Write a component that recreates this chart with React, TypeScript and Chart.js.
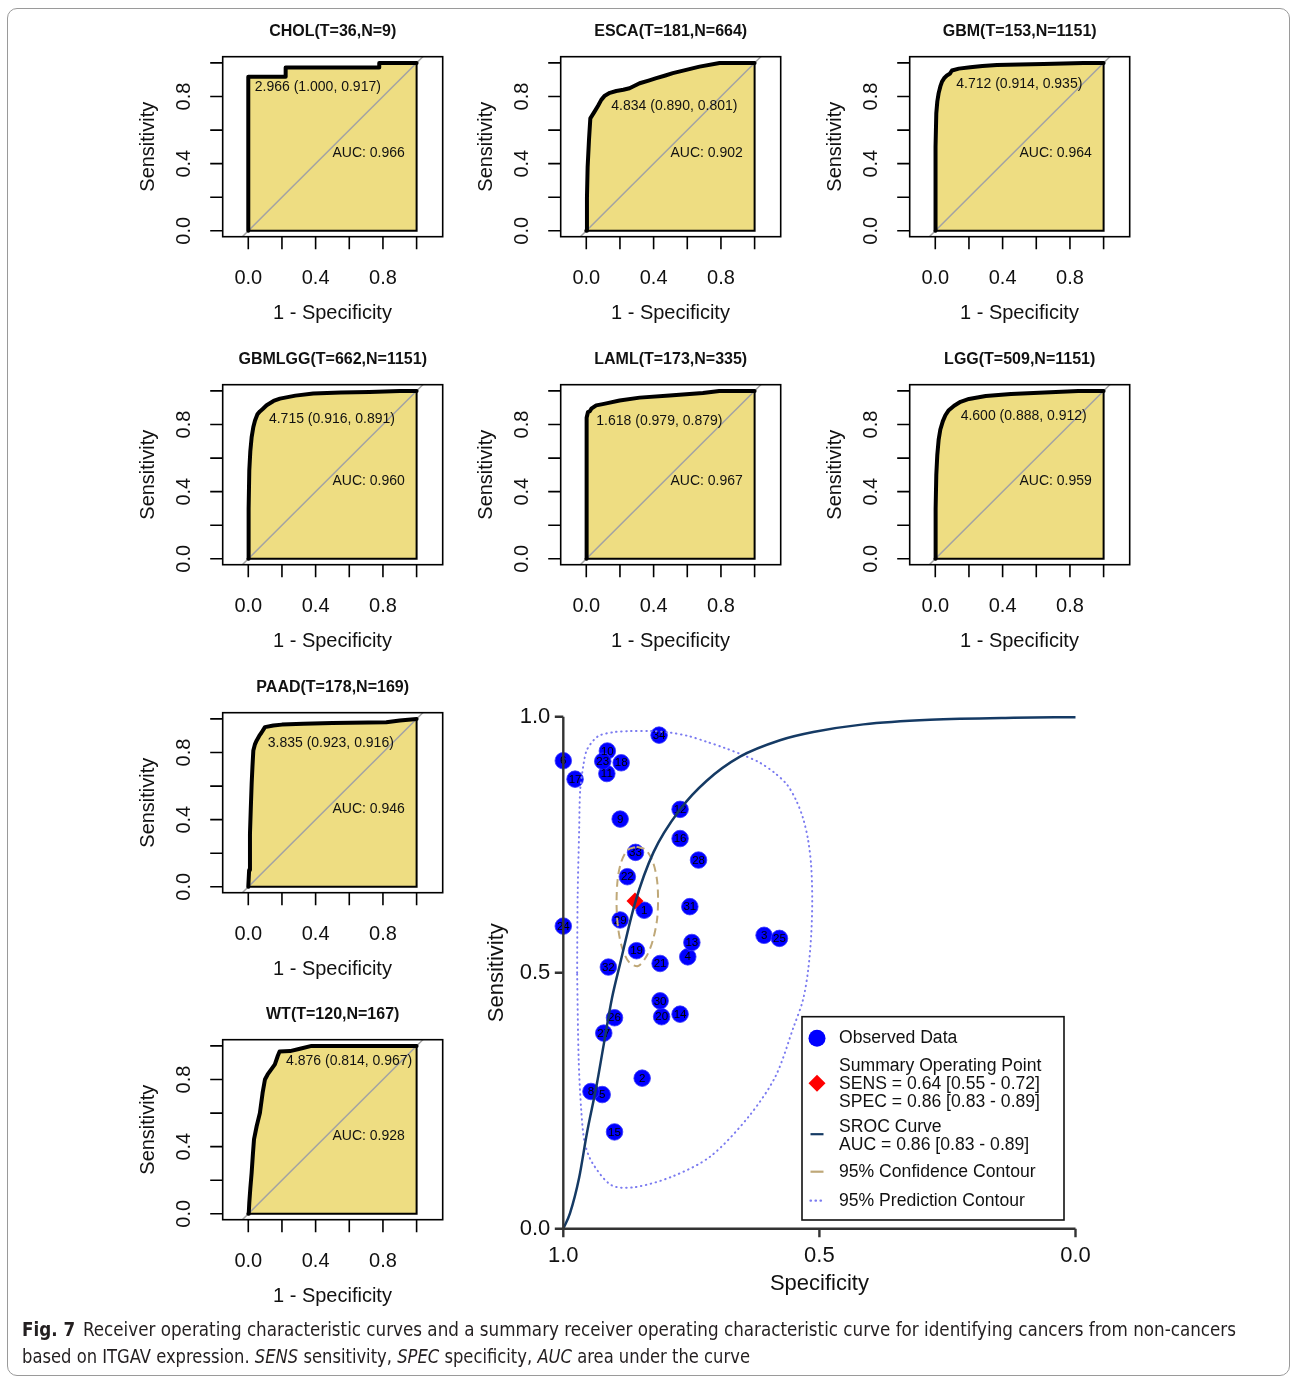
import React, { useEffect, useRef } from 'react';
import { Chart, registerables } from 'chart.js';
Chart.register(...registerables);

const FONT = '"Liberation Sans", Arial, Helvetica, sans-serif';

// ---------------- small ROC panels: data ----------------
const PANEL_TITLES = [
  'CHOL(T=36,N=9)', 'ESCA(T=181,N=664)', 'GBM(T=153,N=1151)',
  'GBMLGG(T=662,N=1151)', 'LAML(T=173,N=335)', 'LGG(T=509,N=1151)',
  'PAAD(T=178,N=169)', 'WT(T=120,N=167)',
];
const PANEL_CUTOFF = [2.966, 4.834, 4.712, 4.715, 1.618, 4.6, 3.835, 4.876];
const PANEL_SPEC = [1.0, 0.89, 0.914, 0.916, 0.979, 0.888, 0.923, 0.814];
const PANEL_SENS = [0.917, 0.801, 0.935, 0.891, 0.879, 0.912, 0.916, 0.967];
const PANEL_AUC = [0.966, 0.902, 0.964, 0.96, 0.967, 0.959, 0.946, 0.928];

const CHOL_FPR = [0, 0, 0.222, 0.222, 0.778, 0.778, 1];
const CHOL_TPR = [0, 0.917, 0.917, 0.972, 0.972, 1, 1];

const ESCA_FPR = [0, 0.004, 0.008, 0.016, 0.024, 0.049, 0.07, 0.089, 0.11, 0.14, 0.178, 0.22, 0.257, 0.317, 0.37, 0.416, 0.47, 0.514, 0.6, 0.673, 0.792, 1];
const ESCA_TPR = [0, 0.2, 0.38, 0.54, 0.67, 0.71, 0.745, 0.78, 0.805, 0.822, 0.833, 0.84, 0.849, 0.879, 0.895, 0.909, 0.925, 0.939, 0.96, 0.978, 1, 1];

const GBM_FPR = [0, 0, 0.003, 0.006, 0.012, 0.02, 0.03, 0.04, 0.055, 0.069, 0.086, 0.099, 0.14, 0.208, 0.28, 0.366, 0.5, 0.643, 0.88, 1];
const GBM_TPR = [0, 0.3, 0.5, 0.7, 0.77, 0.82, 0.86, 0.889, 0.912, 0.925, 0.935, 0.955, 0.966, 0.974, 0.982, 0.988, 0.99, 0.994, 1, 1];

const GBMLGG_FPR = [0, 0.002, 0.006, 0.012, 0.02, 0.03, 0.04, 0.055, 0.069, 0.084, 0.109, 0.15, 0.188, 0.28, 0.386, 0.55, 0.72, 0.9, 1];
const GBMLGG_TPR = [0, 0.3, 0.527, 0.64, 0.725, 0.785, 0.824, 0.862, 0.878, 0.891, 0.915, 0.94, 0.954, 0.972, 0.985, 0.99, 0.993, 1, 1];

const LAML_FPR = [0, 0, 0.004, 0.01, 0.021, 0.03, 0.059, 0.09, 0.119, 0.198, 0.317, 0.495, 0.693, 0.79, 1];
const LAML_TPR = [0, 0.765, 0.84, 0.874, 0.879, 0.894, 0.914, 0.92, 0.926, 0.943, 0.96, 0.973, 0.987, 1, 1];

const LGG_FPR = [0, 0.002, 0.006, 0.012, 0.02, 0.03, 0.045, 0.06, 0.08, 0.112, 0.15, 0.2, 0.3, 0.45, 0.65, 0.85, 1];
const LGG_TPR = [0, 0.3, 0.5, 0.62, 0.71, 0.77, 0.82, 0.855, 0.885, 0.912, 0.935, 0.952, 0.97, 0.982, 0.99, 1, 1];

const PAAD_FPR = [0, 0.005, 0.01, 0.015, 0.02, 0.025, 0.03, 0.04, 0.05, 0.069, 0.077, 0.099, 0.149, 0.2, 0.327, 0.5, 0.82, 0.9, 1];
const PAAD_TPR = [0, 0.1, 0.317, 0.47, 0.614, 0.72, 0.812, 0.85, 0.872, 0.905, 0.916, 0.951, 0.961, 0.966, 0.971, 0.975, 0.98, 0.99, 1];

const WT_FPR = [0, 0.003, 0.006, 0.012, 0.02, 0.027, 0.034, 0.05, 0.069, 0.085, 0.099, 0.115, 0.129, 0.158, 0.175, 0.186, 0.248, 0.307, 0.376, 1];
const WT_TPR = [0, 0.007, 0.067, 0.15, 0.245, 0.35, 0.443, 0.523, 0.6, 0.72, 0.8, 0.83, 0.85, 0.89, 0.94, 0.967, 0.969, 0.983, 1, 1];

const PANEL_FPR = [CHOL_FPR, ESCA_FPR, GBM_FPR, GBMLGG_FPR, LAML_FPR, LGG_FPR, PAAD_FPR, WT_FPR];
const PANEL_TPR = [CHOL_TPR, ESCA_TPR, GBM_TPR, GBMLGG_TPR, LAML_TPR, LGG_TPR, PAAD_TPR, WT_TPR];

const ROC_TICKS = [0, 0.2, 0.4, 0.6, 0.8, 1.0];
const ROC_TICK_LABELS = [0, 0.4, 0.8];

// ---------------- SROC panel: data ----------------
const STUDY_IDS = [1, 2, 3, 4, 5, 6, 8, 9, 10, 11, 12, 13, 14, 15, 16, 17, 18, 19, 20, 21, 22, 23, 24, 25, 26, 27, 28, 29, 30, 31, 32, 33, 34];
const STUDY_SPEC = [0.842, 0.846, 0.608, 0.757, 0.924, 1.0, 0.946, 0.889, 0.914, 0.915, 0.772, 0.749, 0.772, 0.9, 0.772, 0.977, 0.887, 0.857, 0.808, 0.811, 0.875, 0.923, 1.0, 0.578, 0.9, 0.921, 0.736, 0.889, 0.811, 0.753, 0.912, 0.859, 0.813];
const STUDY_SENS = [0.622, 0.294, 0.573, 0.531, 0.262, 0.914, 0.268, 0.8, 0.933, 0.889, 0.819, 0.559, 0.419, 0.189, 0.762, 0.878, 0.91, 0.543, 0.414, 0.518, 0.6875, 0.913, 0.591, 0.567, 0.412, 0.382, 0.72, 0.603, 0.445, 0.629, 0.511, 0.735, 0.964];

const SUMMARY_SENS = [0.64, 0.55, 0.72];
const SUMMARY_SPEC = [0.86, 0.83, 0.89];
const SROC_AUC = [0.86, 0.83, 0.89];

const SROC_SPEC = [1.0, 0.987, 0.969, 0.954, 0.935, 0.921, 0.905, 0.889, 0.86, 0.824, 0.772, 0.72, 0.655, 0.577, 0.512, 0.414, 0.284, 0.121, 0.0];
const SROC_SENS = [0.0, 0.03, 0.1, 0.186, 0.28, 0.36, 0.45, 0.518, 0.636, 0.735, 0.819, 0.875, 0.922, 0.954, 0.97, 0.985, 0.994, 0.998, 0.999];

const CONF_SPEC = [0.857, 0.839, 0.825, 0.817, 0.815, 0.817, 0.825, 0.837, 0.854, 0.872, 0.885, 0.893, 0.896, 0.894, 0.887, 0.874, 0.857];
const CONF_SENS = [0.746, 0.74, 0.716, 0.681, 0.642, 0.603, 0.564, 0.533, 0.513, 0.521, 0.548, 0.587, 0.632, 0.681, 0.716, 0.74, 0.746];

const PRED_SPEC = [0.973, 0.972, 0.969, 0.967, 0.96, 0.954, 0.94, 0.928, 0.9, 0.87, 0.83, 0.792, 0.755, 0.72, 0.685, 0.649, 0.616, 0.587, 0.563, 0.546, 0.532, 0.522, 0.516, 0.514, 0.516, 0.522, 0.532, 0.55, 0.586, 0.638, 0.713, 0.787, 0.861, 0.906, 0.943, 0.958, 0.965, 0.97, 0.973];
const PRED_SENS = [0.5, 0.65, 0.78, 0.857, 0.91, 0.935, 0.955, 0.964, 0.97, 0.972, 0.972, 0.969, 0.962, 0.951, 0.939, 0.925, 0.91, 0.89, 0.867, 0.838, 0.802, 0.759, 0.708, 0.642, 0.574, 0.505, 0.447, 0.395, 0.297, 0.219, 0.141, 0.102, 0.081, 0.085, 0.128, 0.167, 0.232, 0.33, 0.5];

const SROC_TICKS = [1.0, 0.5, 0.0];

// ---------------- layout ----------------
const COL_X = [130, 468.4, 816.5];
const ROW_Y = [10, 337.5, 665.5, 993.3];
const PANEL_POS = [[0, 0], [1, 0], [2, 0], [0, 1], [1, 1], [2, 1], [0, 2], [0, 3]];

const YELLOW = '#EEDD82';

function RocPanel({ idx, left, top }: { idx: number; left: number; top: number }) {
  const ref = useRef<HTMLCanvasElement>(null);
  useEffect(() => {
    const fpr = PANEL_FPR[idx];
    const tpr = PANEL_TPR[idx];
    const decor = {
      id: 'rocDecor',
      afterDatasetsDraw(chart: any) {
        const { ctx, scales: { x, y } } = chart;
        ctx.save();
        ctx.fillStyle = '#111';
        ctx.font = `14px ${FONT}`;
        ctx.textAlign = 'left';
        ctx.textBaseline = 'middle';
        const tx = x.getPixelForValue(1 - PANEL_SPEC[idx]);
        const ty = y.getPixelForValue(PANEL_SENS[idx]);
        ctx.fillText(`${PANEL_CUTOFF[idx].toFixed(3)} (${PANEL_SPEC[idx].toFixed(3)}, ${PANEL_SENS[idx].toFixed(3)})`, tx + 6.5, ty + 10);
        ctx.fillText(`AUC: ${PANEL_AUC[idx].toFixed(3)}`, x.getPixelForValue(0.5), y.getPixelForValue(0.5) + 6.5);
        ctx.restore();
      },
      afterDraw(chart: any) {
        const { ctx, chartArea: a, scales: { x, y } } = chart;
        ctx.save();
        ctx.strokeStyle = '#000';
        ctx.lineWidth = 1.6;
        ctx.strokeRect(a.left, a.top, a.right - a.left, a.bottom - a.top);
        ctx.beginPath();
        for (const v of ROC_TICKS) {
          const px = x.getPixelForValue(v);
          ctx.moveTo(px, a.bottom);
          ctx.lineTo(px, a.bottom + 12.5);
          const py = y.getPixelForValue(v);
          ctx.moveTo(a.left, py);
          ctx.lineTo(a.left - 12.5, py);
        }
        ctx.stroke();
        ctx.fillStyle = '#111';
        ctx.font = `20px ${FONT}`;
        ctx.textAlign = 'center';
        ctx.textBaseline = 'middle';
        for (const v of ROC_TICK_LABELS) {
          ctx.fillText(v.toFixed(1), x.getPixelForValue(v), a.bottom + 41.6);
          ctx.save();
          ctx.translate(a.left - 38.2, y.getPixelForValue(v));
          ctx.rotate(-Math.PI / 2);
          ctx.fillText(v.toFixed(1), 0, 0);
          ctx.restore();
        }
        ctx.fillText('1 - Specificity', (x.getPixelForValue(0) + x.getPixelForValue(1)) / 2, a.bottom + 76.3);
        ctx.save();
        ctx.translate(a.left - 74.4, (a.top + a.bottom) / 2);
        ctx.rotate(-Math.PI / 2);
        ctx.fillText('Sensitivity', 0, 0);
        ctx.restore();
        ctx.font = `bold 16px ${FONT}`;
        ctx.fillText(PANEL_TITLES[idx], (a.left + a.right) / 2, a.top - 25);
        ctx.restore();
      },
    };
    const chart = new Chart(ref.current!, {
      type: 'line',
      data: {
        datasets: [
          {
            data: fpr.map((v, i) => ({ x: v, y: tpr[i] })),
            borderColor: '#000', borderWidth: 4, backgroundColor: YELLOW,
            fill: 'origin', pointRadius: 0, tension: 0, borderJoinStyle: 'round', borderCapStyle: 'round',
          } as any,
          {
            data: [{ x: 0, y: 0 }, { x: 1, y: 0 }, { x: 1, y: 1 }],
            borderColor: '#000', borderWidth: 2, pointRadius: 0, fill: false, tension: 0,
          },
          {
            data: [{ x: -0.2, y: -0.2 }, { x: 1.2, y: 1.2 }],
            borderColor: '#A3A3A3', borderWidth: 1.5, pointRadius: 0, fill: false, tension: 0,
          },
        ],
      },
      options: {
        animation: false, responsive: false, maintainAspectRatio: false, events: [],
        layout: { padding: { left: 92.7, top: 46.7, right: 7.3, bottom: 93.3 } },
        scales: {
          x: { type: 'linear', min: -0.152, max: 1.155, display: false },
          y: { type: 'linear', min: -0.035, max: 1.037, display: false },
        },
        plugins: {
          legend: { display: false }, tooltip: { enabled: false },
          filler: { drawTime: 'beforeDatasetsDraw' } as any,
        },
      } as any,
      plugins: [decor],
    });
    return () => chart.destroy();
  }, [idx]);
  return <canvas ref={ref} width={320} height={320} style={{ position: 'absolute', left, top, width: 320, height: 320 }} />;
}

function SrocPanel() {
  const ref = useRef<HTMLCanvasElement>(null);
  useEffect(() => {
    const NAVY = '#153A64';
    const TAN = '#BFA878';
    const PRED = '#7B7BF0';
    const decor = {
      id: 'srocDecor',
      afterDatasetDraw(chart: any, args: any) {
        if (args.index !== 4) return;
        const { ctx } = chart;
        const meta = chart.getDatasetMeta(4);
        ctx.save();
        ctx.fillStyle = '#000';
        ctx.font = `11.5px ${FONT}`;
        ctx.textAlign = 'center';
        ctx.textBaseline = 'middle';
        meta.data.forEach((el: any, i: number) => ctx.fillText(String(STUDY_IDS[i]), el.x, el.y + 0.5));
        ctx.restore();
      },
      afterDraw(chart: any) {
        const { ctx, chartArea: a, scales: { x, y } } = chart;
        ctx.save();
        // axes
        ctx.strokeStyle = '#333';
        ctx.lineWidth = 2.4;
        ctx.beginPath();
        ctx.moveTo(a.left, y.getPixelForValue(1));
        ctx.lineTo(a.left, y.getPixelForValue(0));
        ctx.moveTo(x.getPixelForValue(1), a.bottom);
        ctx.lineTo(x.getPixelForValue(0), a.bottom);
        for (const v of SROC_TICKS) {
          ctx.moveTo(a.left, y.getPixelForValue(v));
          ctx.lineTo(a.left - 8.5, y.getPixelForValue(v));
          ctx.moveTo(x.getPixelForValue(v), a.bottom);
          ctx.lineTo(x.getPixelForValue(v), a.bottom + 8.5);
        }
        ctx.stroke();
        ctx.fillStyle = '#111';
        ctx.font = `22px ${FONT}`;
        ctx.textBaseline = 'middle';
        ctx.textAlign = 'right';
        for (const v of SROC_TICKS) ctx.fillText(v.toFixed(1), a.left - 13, y.getPixelForValue(v));
        ctx.textAlign = 'center';
        for (const v of SROC_TICKS) ctx.fillText(v.toFixed(1), x.getPixelForValue(v), a.bottom + 27.5);
        ctx.fillText('Specificity', x.getPixelForValue(0.5), a.bottom + 55.5);
        ctx.save();
        ctx.translate(a.left - 66.3, y.getPixelForValue(0.5));
        ctx.rotate(-Math.PI / 2);
        ctx.fillText('Sensitivity', 0, 0);
        ctx.restore();

        // legend
        const L = a.left + 238.7;
        const T = a.top + 300;
        ctx.fillStyle = '#fff';
        ctx.fillRect(L, T, 262, 203.3);
        ctx.strokeStyle = '#111';
        ctx.lineWidth = 1.6;
        ctx.strokeRect(L, T, 262, 203.3);
        const mx = L + 15;
        const tx = L + 37;
        ctx.fillStyle = '#0000FF';
        ctx.beginPath();
        ctx.arc(mx, T + 21.5, 8.5, 0, Math.PI * 2);
        ctx.fill();
        ctx.fillStyle = '#FF0000';
        ctx.beginPath();
        ctx.moveTo(mx, T + 58);
        ctx.lineTo(mx + 8.5, T + 66.5);
        ctx.lineTo(mx, T + 75);
        ctx.lineTo(mx - 8.5, T + 66.5);
        ctx.closePath();
        ctx.fill();
        ctx.lineWidth = 2.2;
        ctx.strokeStyle = NAVY;
        ctx.beginPath(); ctx.moveTo(mx - 6.5, T + 117.5); ctx.lineTo(mx + 6.5, T + 117.5); ctx.stroke();
        ctx.strokeStyle = TAN;
        ctx.beginPath(); ctx.moveTo(mx - 6.5, T + 155); ctx.lineTo(mx + 6.5, T + 155); ctx.stroke();
        ctx.strokeStyle = PRED;
        ctx.setLineDash([0.5, 4.5]);
        ctx.lineCap = 'round';
        ctx.beginPath(); ctx.moveTo(mx - 6.5, T + 184); ctx.lineTo(mx + 6.5, T + 184); ctx.stroke();
        ctx.setLineDash([]);
        ctx.fillStyle = '#111';
        ctx.font = `17.6px ${FONT}`;
        ctx.textAlign = 'left';
        const f = (v: number) => v.toFixed(2);
        ctx.fillText('Observed Data', tx, T + 21.5);
        ctx.fillText('Summary Operating Point', tx, T + 49.5);
        ctx.fillText(`SENS = ${f(SUMMARY_SENS[0])} [${f(SUMMARY_SENS[1])} - ${f(SUMMARY_SENS[2])}]`, tx, T + 67.3);
        ctx.fillText(`SPEC = ${f(SUMMARY_SPEC[0])} [${f(SUMMARY_SPEC[1])} - ${f(SUMMARY_SPEC[2])}]`, tx, T + 85);
        ctx.fillText('SROC Curve', tx, T + 110);
        ctx.fillText(`AUC = ${f(SROC_AUC[0])} [${f(SROC_AUC[1])} - ${f(SROC_AUC[2])}]`, tx, T + 128.3);
        ctx.fillText('95% Confidence Contour', tx, T + 155);
        ctx.fillText('95% Prediction Contour', tx, T + 184);
        ctx.restore();
      },
    };
    const chart = new Chart(ref.current!, {
      type: 'line',
      data: {
        datasets: [
          {
            data: SROC_SPEC.map((v, i) => ({ x: v, y: SROC_SENS[i] })),
            borderColor: NAVY, borderWidth: 2.5, pointRadius: 0, fill: false,
            cubicInterpolationMode: 'monotone', clip: false,
          } as any,
          {
            data: CONF_SPEC.map((v, i) => ({ x: v, y: CONF_SENS[i] })),
            borderColor: TAN, borderWidth: 2, borderDash: [8, 5], pointRadius: 0, fill: false,
            tension: 0.3, clip: false,
          },
          {
            data: PRED_SPEC.map((v, i) => ({ x: v, y: PRED_SENS[i] })),
            borderColor: PRED, borderWidth: 2, borderDash: [0.5, 4.5], borderCapStyle: 'round',
            pointRadius: 0, fill: false, tension: 0.3, clip: false,
          },
          {
            data: [{ x: SUMMARY_SPEC[0], y: SUMMARY_SENS[0] }],
            showLine: false, pointStyle: 'rectRot', pointRadius: 8.5,
            pointBackgroundColor: '#FF0000', pointBorderColor: '#FF0000', pointBorderWidth: 0, clip: false,
          },
          {
            data: STUDY_SPEC.map((v, i) => ({ x: v, y: STUDY_SENS[i] })),
            showLine: false, pointRadius: 8.3, pointBackgroundColor: '#0000FF',
            pointBorderColor: '#3A3AFF', pointBorderWidth: 0.8, clip: false,
          },
        ],
      },
      options: {
        animation: false, responsive: false, maintainAspectRatio: false, events: [],
        layout: { padding: { left: 93.3, top: 26.7, right: 24.5, bottom: 81.3 } },
        scales: {
          x: { type: 'linear', min: 0, max: 1, reverse: true, display: false },
          y: { type: 'linear', min: 0, max: 1, display: false },
        },
        plugins: { legend: { display: false }, tooltip: { enabled: false } },
      } as any,
      plugins: [decor],
    });
    return () => chart.destroy();
  }, []);
  return <canvas ref={ref} width={630} height={620} style={{ position: 'absolute', left: 470, top: 690, width: 630, height: 620 }} />;
}

export default function App() {
  const capFont = '"Liberation Sans Narrow", "DejaVu Sans Condensed", "Liberation Sans", Arial, sans-serif';
  return (
    <div style={{ position: 'absolute', left: 0, top: 0, width: 1292, height: 1377, background: '#fff', overflow: 'hidden' }}>
      <div style={{ position: 'absolute', left: 7, top: 8, width: 1283, height: 1368, border: '1px solid #9A9A9A', borderRadius: 10, boxSizing: 'border-box' }} />
      {PANEL_POS.map(([c, r], i) => (
        <RocPanel key={i} idx={i} left={COL_X[c]} top={ROW_Y[r]} />
      ))}
      <SrocPanel />
      <svg style={{ position: 'absolute', left: 0, top: 1310 }} width={1292} height={67}>
        <text x={22} y={26} fontFamily={capFont} fontSize={19} fill="#231F20" textLength={1214} lengthAdjust="spacingAndGlyphs">
          <tspan fontWeight="bold">Fig. 7</tspan>
          <tspan dx={8}>Receiver operating characteristic curves and a summary receiver operating characteristic curve for identifying cancers from non-cancers</tspan>
        </text>
        <text x={22} y={53} fontFamily={capFont} fontSize={19} fill="#231F20" textLength={728} lengthAdjust="spacingAndGlyphs">
          based on ITGAV expression. <tspan fontStyle="italic">SENS</tspan> sensitivity, <tspan fontStyle="italic">SPEC</tspan> specificity, <tspan fontStyle="italic">AUC</tspan> area under the curve
        </text>
      </svg>
    </div>
  );
}
